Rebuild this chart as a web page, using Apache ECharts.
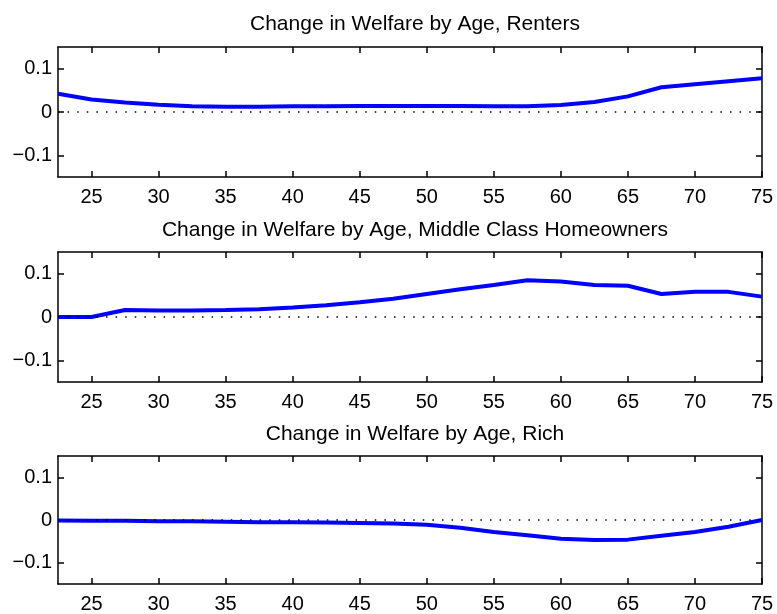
<!DOCTYPE html>
<html>
<head>
<meta charset="utf-8">
<script src="https://cdn.jsdelivr.net/npm/echarts@6/dist/echarts.min.js"></script>
<style>
  html, body { margin: 0; padding: 0; background: #fff; }
  #chart { width: 777px; height: 614px; }
</style>
</head>
<body>
<div id="chart"></div>
<script>
// ages on the x axis (every 2.5 years)
var ages = [22.5, 25, 27.5, 30, 32.5, 35, 37.5, 40, 42.5, 45, 47.5, 50,
            52.5, 55, 57.5, 60, 62.5, 65, 67.5, 70, 72.5, 75];

var renters = [0.042, 0.029, 0.022, 0.017, 0.013, 0.012, 0.012, 0.013, 0.013, 0.014, 0.014,
               0.014, 0.014, 0.013, 0.013, 0.016, 0.023, 0.036, 0.057, 0.064, 0.071, 0.078];
var middleClass = [0, 0, 0.016, 0.015, 0.015, 0.016, 0.018, 0.022, 0.027, 0.034, 0.042,
                   0.053, 0.064, 0.074, 0.085, 0.082, 0.074, 0.072, 0.053, 0.058, 0.058, 0.047];
var rich = [-0.001, -0.002, -0.002, -0.003, -0.003, -0.004, -0.005, -0.005, -0.006, -0.007, -0.008,
            -0.011, -0.018, -0.028, -0.036, -0.044, -0.047, -0.046, -0.037, -0.028, -0.016, 0.0];

var titles = ['Change in Welfare by Age, Renters',
              'Change in Welfare by Age, Middle Class Homeowners',
              'Change in Welfare by Age, Rich'];

var xTicks = [25, 30, 35, 40, 45, 50, 55, 60, 65, 70, 75];
var yTicks = [-0.1, 0, 0.1];

var panels = [renters, middleClass, rich];
var gridTops = [47, 252, 456];
var titleTops = [9, 215, 419];

var FONT = '"Liberation Sans", Arial, Helvetica, sans-serif';

var chart = echarts.init(document.getElementById('chart'));

var grid = [], xAxis = [], yAxis = [], series = [], title = [];

function frameLine() {
    return { show: true, onZero: false, lineStyle: { color: '#000', width: 1.5 } };
}
function inTicks(vals) {
    return { show: true, inside: true, length: 6, customValues: vals,
             lineStyle: { color: '#000', width: 1.5 } };
}

panels.forEach(function (vals, i) {
    grid.push({ left: 58, right: 15, top: gridTops[i], height: 130, show: false });

    title.push({
        text: titles[i], left: 410, top: titleTops[i], textAlign: 'center',
        textStyle: { fontFamily: FONT, fontSize: 21, fontWeight: 'normal', color: '#000' }
    });

    // bottom + mirrored top axis
    xAxis.push({
        type: 'value', gridIndex: i, min: 22.5, max: 75, position: 'bottom',
        splitLine: { show: false }, axisLine: frameLine(), axisTick: inTicks(xTicks),
        axisLabel: { show: true, customValues: xTicks, margin: 10, color: '#000',
                     fontFamily: FONT, fontSize: 20 }
    });
    xAxis.push({
        type: 'value', gridIndex: i, min: 22.5, max: 75, position: 'top',
        splitLine: { show: false }, axisLine: frameLine(), axisTick: inTicks(xTicks),
        axisLabel: { show: false }
    });

    // left + mirrored right axis
    yAxis.push({
        type: 'value', gridIndex: i, min: -0.15, max: 0.15, position: 'left',
        splitLine: { show: false }, axisLine: frameLine(), axisTick: inTicks(yTicks),
        axisLabel: {
            show: true, customValues: yTicks, margin: 6, color: '#000',
            fontFamily: FONT, fontSize: 20,
            formatter: function (v) {
                if (Math.abs(v) < 1e-9) return '0';
                return v < 0 ? '\u2212' + Math.abs(v).toFixed(1) : v.toFixed(1);
            }
        }
    });
    yAxis.push({
        type: 'value', gridIndex: i, min: -0.15, max: 0.15, position: 'right',
        splitLine: { show: false }, axisLine: frameLine(), axisTick: inTicks(yTicks),
        axisLabel: { show: false }
    });

    series.push({
        type: 'line',
        xAxisIndex: 2 * i,
        yAxisIndex: 2 * i,
        showSymbol: false,
        silent: true,
        lineStyle: { color: '#0000ff', width: 4 },
        data: ages.map(function (a, j) { return [a, vals[j]]; }),
        markLine: {
            silent: true,
            symbol: ['none', 'none'],
            label: { show: false },
            lineStyle: { color: '#000', width: 1.5, type: [1.5, 8.1] },
            data: [{ yAxis: 0 }]
        }
    });
});

chart.setOption({
    backgroundColor: '#fff',
    animation: false,
    title: title,
    grid: grid,
    xAxis: xAxis,
    yAxis: yAxis,
    series: series
});
</script>
</body>
</html>
